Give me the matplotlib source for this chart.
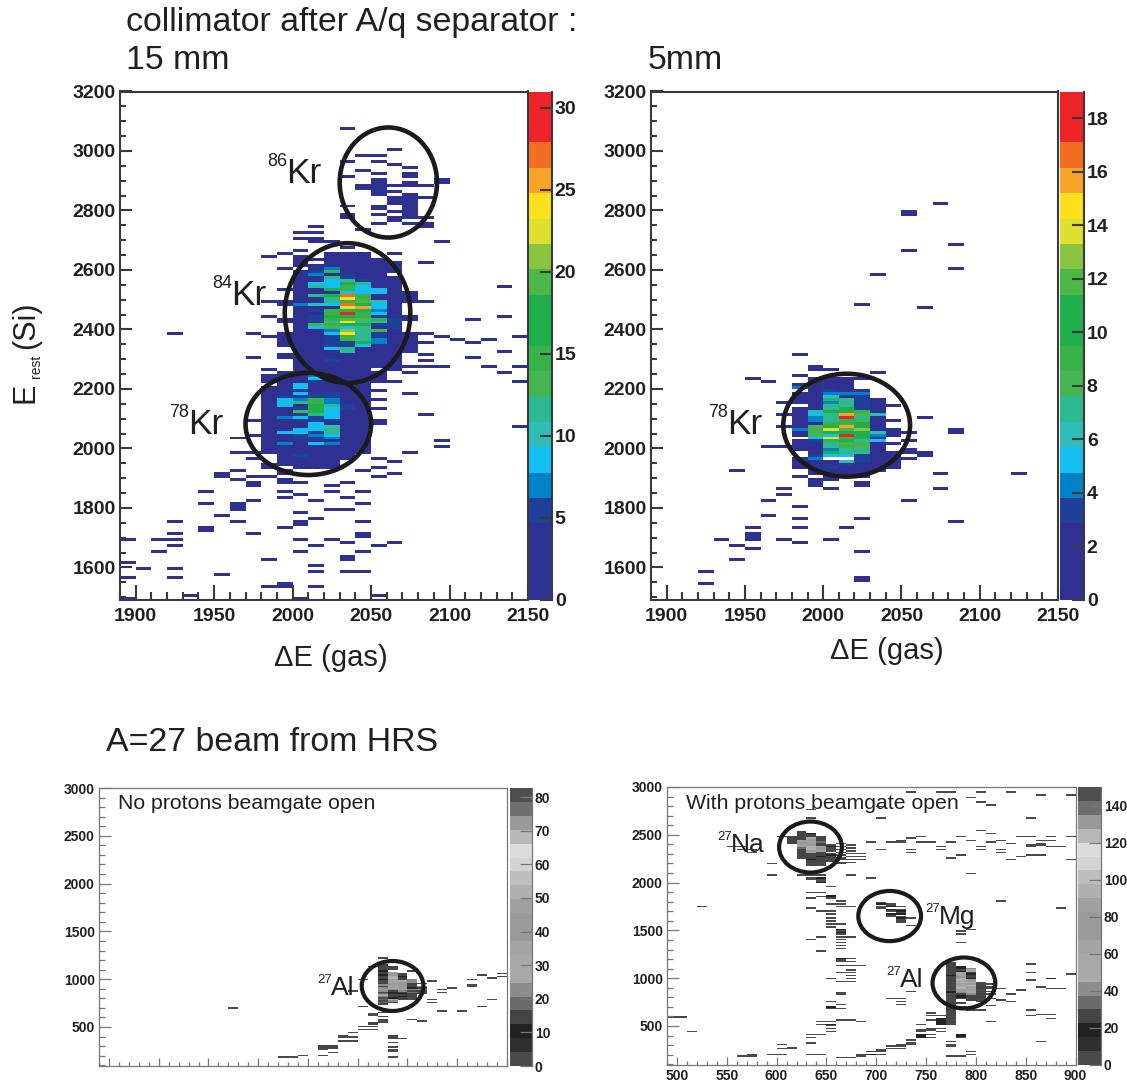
import numpy as np
import matplotlib
matplotlib.use("Agg")
import matplotlib.pyplot as plt
from matplotlib.colors import ListedColormap, BoundaryNorm
from matplotlib.patches import Ellipse
from matplotlib.ticker import MultipleLocator

W, H = 1127, 1086
plt.rcParams['font.family'] = ['Liberation Sans', 'DejaVu Sans']
INK = '#231f20'

# palette of the two upper plots and the gray version of the lower ones
rainbow = ['#2e3192', '#2e3192', '#2e3192', '#1f4099', '#0082c8', '#14bef0', '#2dbdb6',
           '#2db890', '#45b552', '#37b34a', '#1faf4b', '#1faf4b', '#4db748', '#8ac440',
           '#dde030', '#fbe01c', '#f9a327', '#f36e23', '#ee2328', '#ee2328']
grays = ['#4a4a4a', '#2f2f2f', '#222222', '#444444', '#6a6a6a', '#8c8c8c', '#a9a9a9', '#a8a8a8',
         '#a4a4a4', '#9a9a9a', '#9a9a9a', '#a0a0a0', '#b0b0b0', '#bebebe', '#d4d4d4', '#dcdcdc',
         '#b8b8b8', '#999999', '#6f6f6f', '#4f4f4f']

# ---- 15 mm plot ----
tl_rows_y = [3070, 3000, 2980, 2960, 2950, 2940, 2930, 2920, 2910, 2900, 2890, 2880, 2870, 2860,
             2850, 2840, 2830, 2820, 2810, 2800, 2790, 2780, 2770, 2760, 2750, 2740, 2730, 2720,
             2700, 2690, 2670, 2660, 2620, 2540, 2490, 2440, 2430, 2380, 2370, 2360, 2350, 2320,
             2310, 2300, 2290, 2270, 2250, 2220, 2180, 2160, 2130, 2110, 2090, 2080, 2070, 2040,
             2030, 2020, 2000, 1980, 1960, 1950, 1930, 1920, 1910, 1900, 1890, 1880, 1870, 1850,
             1840, 1830, 1820, 1810, 1800, 1790, 1780, 1770, 1760, 1750, 1740, 1730, 1720, 1710,
             1700, 1690, 1680, 1670, 1650, 1630, 1620, 1610, 1600, 1590, 1580, 1570, 1560, 1540,
             1530, 1500, 1490]
tl_rows_x = [[2030], [2060], [2040, 2050], [2030, 2050], [2060], [2070], [2040], [2050, 2070],
             [2030, 2070], [2050, 2090], [2050, 2070, 2090], [2040, 2050, 2060, 2070, 2080],
             [2040, 2050], [2050, 2060], [2050, 2070], [2060, 2070, 2080], [2060, 2070],
             [2060, 2070], [2030, 2050, 2070], [2050, 2070], [2060, 2070], [2030, 2050, 2070],
             [2030, 2060, 2070, 2080], [2060], [2050, 2070, 2080], [2010, 2080], [2040],
             [2000, 2010], [2000, 2010], [2010, 2020, 2090], [2030], [2000], [2080], [2130],
             [2080], [1980, 2130], [2110], [1920, 1970, 2080], [2090, 2140], [2100, 2120],
             [2080, 2110], [2130], [2080], [1970, 2110], [2080], [2080, 2090, 2120, 2140], [2130],
             [2050, 2140], [2070], [2050], [2050], [2080], [1970, 2050], [2050], [2140], [1970],
             [1960], [2090], [2090], [1960, 1970, 2070], [1970, 2050], [2060], [1980, 2050],
             [1960, 2040], [1950, 1990, 2060], [1950, 1970, 1980, 2050], [1960, 1990],
             [1970, 1990, 2000, 2030], [1970, 2020], [1940, 1990, 2020, 2040], [2000], [1990, 2030],
             [1970, 2010], [1940, 1960, 2040], [1960], [1960, 2020, 2030], [2000], [1950], [2010],
             [1920, 1960, 2000, 2040], [2000], [1940, 1990], [1940], [1920, 1970, 2040],
             [2040], [1890, 1910, 1920, 2000, 2020], [2030, 2060], [1920, 2010, 2050],
             [1910, 2000, 2040], [2030], [1980, 2030], [1890], [2010], [1900, 1920],
             [2010, 2030, 2040], [1950], [1890, 1920], [1990], [1980, 1990, 2010], [1930, 2050],
             [1890, 2000]]

tl_core_x = [1980, 1990, 2000, 2010, 2020, 2030, 2040, 2050, 2060, 2070]
tl_core_top = 2650
tl_core = [
    [0, 1, 0, 0, 2, 2, 2, 0, 1, 0], [1, 0, 2, 0, 2, 2, 2, 0, 0, 0], [0, 0, 1, 1, 2, 2, 2, 1, 0, 0],
    [0, 0, 2, 0, 1, 2, 1, 1, 1, 0], [0, 0, 2, 1, 1, 1, 2, 2, 2, 0], [0, 1, 0, 3, 7, 4, 2, 2, 2, 0],
    [0, 0, 2, 6, 15, 4, 3, 1, 1, 0], [0, 0, 2, 7, 2, 5, 3, 3, 0, 0], [0, 0, 1, 2, 11, 5, 4, 3, 2, 0],
    [0, 0, 2, 3, 8, 11, 5, 1, 3, 0], [0, 0, 2, 9, 8, 16, 11, 2, 3, 0], [0, 0, 2, 12, 8, 15, 9, 2, 2, 0],
    [0, 2, 2, 2, 16, 15, 9, 9, 3, 0], [0, 0, 2, 3, 4, 8, 9, 9, 3, 2], [0, 0, 2, 11, 16, 27, 15, 2, 3, 2],
    [0, 0, 2, 3, 12, 24, 15, 3, 3, 2], [1, 2, 2, 3, 12, 15, 19, 10, 2, 2], [0, 2, 7, 10, 8, 27, 16, 9, 3, 0],
    [0, 0, 2, 3, 3, 23, 25, 9, 3, 0], [0, 0, 2, 5, 15, 15, 16, 7, 3, 0], [0, 0, 2, 3, 15, 30, 15, 8, 3, 0],
    [0, 0, 2, 5, 16, 16, 15, 5, 3, 2], [0, 2, 2, 5, 15, 20, 19, 15, 5, 2], [0, 2, 2, 5, 11, 24, 11, 12, 5, 0],
    [0, 0, 2, 13, 15, 16, 16, 6, 5, 0], [0, 0, 2, 8, 13, 9, 11, 3, 5, 0], [0, 0, 2, 2, 7, 21, 11, 13, 3, 0],
    [0, 1, 2, 2, 8, 24, 11, 5, 2, 2], [1, 1, 2, 3, 5, 15, 11, 5, 3, 2], [0, 1, 2, 2, 5, 15, 11, 7, 3, 2],
    [0, 2, 2, 2, 5, 5, 16, 7, 3, 2], [0, 1, 2, 2, 5, 5, 8, 2, 3, 2], [0, 0, 2, 2, 8, 11, 2, 2, 3, 1],
    [0, 0, 2, 2, 3, 11, 3, 2, 2, 1], [0, 1, 2, 2, 2, 2, 2, 2, 2, 0], [0, 1, 2, 2, 3, 3, 2, 2, 2, 0],
    [0, 0, 2, 2, 5, 2, 2, 2, 2, 0], [0, 0, 2, 1, 2, 2, 1, 2, 2, 0], [0, 0, 2, 2, 2, 2, 2, 2, 2, 1],
    [1, 0, 2, 3, 2, 2, 2, 0, 2, 0], [0, 1, 2, 2, 2, 2, 2, 2, 0, 1], [1, 2, 2, 7, 2, 2, 2, 2, 0, 0],
    [1, 2, 2, 8, 2, 2, 2, 2, 0, 0], [2, 2, 2, 5, 2, 2, 2, 2, 1, 0], [0, 2, 8, 2, 2, 2, 2, 0, 0, 0],
    [2, 2, 8, 2, 2, 2, 2, 0, 0, 0], [2, 2, 5, 2, 2, 2, 2, 2, 0, 0], [2, 2, 8, 5, 5, 2, 2, 0, 0, 1],
    [2, 5, 5, 5, 5, 2, 2, 0, 0, 0], [2, 8, 7, 15, 7, 2, 2, 0, 0, 0], [2, 8, 11, 15, 7, 3, 2, 0, 0, 0],
    [2, 8, 3, 16, 11, 5, 2, 0, 0, 0], [2, 2, 5, 16, 8, 5, 2, 1, 0, 0], [2, 3, 13, 16, 8, 2, 2, 0, 0, 0],
    [2, 3, 5, 11, 8, 2, 2, 0, 0, 0], [2, 7, 8, 5, 8, 2, 2, 0, 0, 0], [2, 2, 5, 5, 5, 3, 2, 1, 0, 0],
    [2, 2, 2, 8, 2, 2, 2, 1, 0, 0], [2, 2, 3, 8, 10, 2, 2, 0, 0, 0], [2, 2, 8, 8, 11, 2, 2, 0, 0, 0],
    [2, 8, 8, 5, 11, 2, 2, 0, 0, 0], [2, 2, 5, 7, 8, 2, 2, 0, 0, 0], [2, 2, 5, 5, 7, 2, 2, 0, 0, 0],
    [1, 2, 2, 2, 3, 2, 2, 0, 0, 0], [1, 7, 2, 8, 7, 2, 2, 0, 0, 0], [1, 2, 2, 2, 2, 2, 2, 0, 0, 0],
    [1, 2, 2, 2, 2, 2, 2, 0, 0, 0], [1, 1, 3, 2, 2, 2, 1, 0, 0, 1], [0, 1, 5, 1, 2, 2, 0, 0, 0, 0],
    [0, 1, 1, 3, 1, 1, 0, 1, 0, 0], [0, 1, 2, 2, 2, 0, 0, 0, 1, 0], [1, 1, 2, 2, 1, 0, 0, 0, 0, 0],
    [1, 0, 1, 2, 2, 0, 0, 1, 0, 0], [0, 1, 0, 0, 0, 0, 1, 0, 0, 0]]

# ---- 5 mm plot ----
tr_rows_y = [2820, 2790, 2780, 2680, 2660, 2600, 2580, 2480, 2470, 2310, 2270, 2260, 2250, 2240,
             2230, 2220, 2150, 2140, 2110, 2100, 2090, 2070, 2060, 2050, 2040, 2020, 2010, 2000,
             1990, 1980, 1970, 1960, 1950, 1920, 1910, 1900, 1890, 1880, 1870, 1860, 1840, 1820,
             1800, 1770, 1760, 1750, 1730, 1710, 1700, 1690, 1680, 1670, 1660, 1650, 1620, 1580,
             1560, 1550, 1540]
tr_rows_x = [[2070], [2050], [2050], [2080], [2050], [2080], [2030], [2020], [2060], [1980], [1990],
             [1990, 2000], [2030], [1980], [1950], [1960], [1970], [2040], [1970], [2060], [2040],
             [1970], [2040, 2080], [2050, 2080], [2040], [2050], [2040], [1960, 1970], [2050],
             [2040, 2050, 2060], [2060], [2040, 2050], [2040], [1940], [2070, 2120], [1980],
             [1990, 2000], [1990, 2020], [1990, 2020], [1970, 2000, 2070], [1970], [1960, 2050],
             [1980], [1960], [1980, 2020], [2080], [1950, 1980, 2010], [1950], [1950],
             [1930, 1950, 1970, 2000], [1980], [1940], [1950], [2020], [1940], [1920], [2020],
             [2020], [1920]]

tr_core_x = [1980, 1990, 2000, 2010, 2020, 2030, 2040]
tr_core_top = 2230
tr_core = [
    [0, 2, 2, 2, 2, 0, 0], [0, 2, 2, 2, 0, 0, 0], [2, 2, 2, 2, 0, 0, 0], [4, 2, 2, 2, 0, 0, 0],
    [0, 2, 3, 2, 2, 0, 0], [2, 2, 4, 4, 4, 0, 0], [2, 2, 5, 2, 3, 0, 0], [2, 2, 9, 7, 3, 2, 0],
    [2, 2, 4, 7, 3, 2, 0], [0, 2, 7, 7, 3, 2, 2], [2, 2, 7, 10, 3, 2, 0], [2, 6, 10, 10, 9, 2, 0],
    [2, 5, 7, 16, 8, 6, 0], [2, 4, 7, 18, 7, 2, 0], [2, 4, 7, 9, 8, 2, 2], [2, 2, 9, 9, 10, 2, 0],
    [2, 8, 10, 16, 10, 2, 0], [4, 8, 14, 12, 13, 2, 2], [2, 8, 10, 10, 11, 6, 2], [2, 8, 5, 18, 10, 4, 2],
    [0, 5, 14, 9, 10, 2, 0], [2, 3, 9, 10, 7, 5, 0], [2, 2, 7, 8, 8, 2, 2], [2, 2, 7, 9, 8, 2, 0],
    [2, 2, 4, 7, 7, 2, 0], [0, 2, 10, 7, 7, 2, 2], [0, 3, 5, 5, 3, 2, 2], [2, 4, 0, 0, 3, 2, 0],
    [2, 2, 2, 6, 3, 2, 2], [2, 2, 2, 3, 2, 2, 2], [2, 2, 3, 2, 2, 2, 2], [0, 2, 2, 2, 2, 2, 0],
    [0, 2, 2, 2, 2, 0, 0], [2, 0, 2, 2, 2, 0, 0]]

# ---- no protons plot ----
bl_rows_y = [1225, 1130, 1080, 1060, 1045, 1030, 1010, 990, 975, 940, 920, 910, 895, 870, 860, 790,
             750, 715, 700, 660, 650, 635, 620, 610, 580, 575, 555, 540, 505, 470, 445, 410, 400,
             380, 355, 345, 335, 295, 280, 260, 240, 230, 205, 200, 195, 185, 180]
bl_rows_x = [[770], [760], [800], [890], [870], [890], [880], [750, 860], [820], [860], [860], [840],
             [830], [740], [830], [820, 880], [820], [750, 870], [620], [830, 850], [770], [760], [760],
             [770], [800], [770], [770, 810], [760, 770], [750, 760], [750, 760], [740], [730],
             [730, 740, 780], [780, 790], [730], [740], [780], [780], [710, 720], [710, 780], [780],
             [720], [710], [690], [690], [680], [670, 780]]
bl_dark_y = [645, 610, 600, 580, 540, 525, 505, 415, 400, 310, 295]
bl_dark_x = [[770], [770], [770], [770], [760], [760], [750, 760], [780], [780], [710, 720], [710, 720]]

bl_core_x = [770, 780, 790, 800, 810]
bl_core_top = 1140
bl_core = [
    [14, 0, 0, 0, 0], [14, 14, 0, 0, 0], [2, 14, 0, 0, 0], [14, 14, 0, 0, 0], [10, 0, 0, 0, 0],
    [14, 35, 0, 0, 0], [14, 45, 14, 0, 0], [10, 45, 14, 0, 0], [14, 50, 10, 0, 0], [14, 50, 14, 0, 0],
    [10, 40, 14, 22, 0], [14, 35, 30, 22, 0], [2, 35, 40, 22, 0], [14, 40, 45, 14, 2], [22, 40, 40, 14, 0],
    [2, 35, 40, 14, 22], [22, 35, 40, 10, 14], [35, 22, 35, 22, 22], [22, 14, 22, 14, 14], [2, 10, 14, 18, 2],
    [18, 6, 10, 14, 2], [35, 14, 14, 14, 0], [22, 14, 10, 14, 0], [2, 10, 14, 2, 0], [18, 35, 2, 2, 0],
    [2, 22, 0, 0, 0], [18, 2, 0, 0, 0], [14, 0, 0, 0, 0]]

# ---- with protons plot ----
br_rows_y = [2990, 2950, 2940, 2910, 2890, 2840, 2810, 2800, 2760, 2680, 2670, 2540, 2510, 2480, 2460,
             2440, 2420, 2400, 2390, 2380, 2370, 2350, 2310, 2290, 2270, 2250, 2240, 2190, 2090, 2070,
             2050, 2030, 2015, 2000, 1950, 1900, 1860, 1845, 1830, 1810, 1800, 1780, 1750, 1735, 1725,
             1700, 1665, 1630, 1600, 1570, 1535, 1500, 1485, 1455, 1430, 1400, 1370, 1345, 1315, 1280,
             1210, 1195, 1175, 1150, 1130, 1085, 1060, 1040, 1030, 1000, 980, 970, 930, 910, 900, 895,
             890, 885, 880, 860, 855, 850, 825, 790, 780, 770, 760, 755, 730, 710, 700, 675, 665, 660,
             630, 625, 615, 605, 600, 590, 580, 565, 555, 545, 540, 525, 510, 495, 475, 455, 440, 405,
             380, 355, 335, 320, 300, 290, 270, 265, 255, 250, 230, 205, 195, 185, 180, 170]
br_rows_x = [[820], [770, 800], [730, 760, 830], [860, 890], [790], [800], [810], [700], [630], [850],
             [630, 700], [800], [810], [600, 740, 780, 840, 850, 870, 890], [730], [720, 790, 820, 860, 870],
             [690, 710, 720, 740, 750, 770, 810], [830, 860], [850, 860], [550, 560, 850, 870],
             [760, 800, 880], [560, 570, 700, 730, 760, 800, 820], [570, 730, 820], [780, 850, 860], [840],
             [770], [830, 890], [590], [790], [590, 620, 630, 640, 670], [630, 640, 690], [630, 640], [640],
             [640], [650], [630, 640], [650], [640, 650], [630, 650], [820], [660], [650, 660],
             [520, 660, 670], [630], [880], [640, 650], [650], [650], [650], [650, 660], [650], [660, 790],
             [660, 780], [660, 780], [640, 660, 670], [630, 660], [660, 780], [660], [660], [640], [660, 670],
             [660], [660, 670], [850], [660, 670, 680], [670], [660, 670, 850], [890], [670], [650, 670], [850],
             [660, 670], [810], [860], [810], [870, 880], [820], [810], [840], [730], [810], [660], [660, 810, 830],
             [810], [710, 720], [820], [650, 720], [830], [660, 720], [810], [650], [650, 660], [800], [850],
             [750], [870], [860], [760], [750, 850], [490, 500], [870], [760], [660, 670, 750, 760],
             [640, 650, 810], [680, 760], [760], [640, 650, 740], [650], [650, 750, 760], [740, 750],
             [510, 650, 740, 760], [630, 640, 740, 750, 780], [630, 740, 750, 780], [730], [770, 860], [630, 730],
             [600, 720, 730, 770], [710, 720, 770], [610], [710, 720], [600, 610], [700], [690, 700, 790],
             [630, 640], [570, 590, 600, 680, 690, 700, 790], [680, 770, 780], [560, 570], [660, 670]]
br_dark_y = [2045, 2000, 1860, 1845, 1500, 1480, 1210, 990, 700, 575, 560, 545, 530, 515, 510, 415, 410,
             400, 395, 380, 205, 195]
br_dark_x = [[640], [640], [650], [650], [660], [660], [660], [870], [650], [760], [760], [760], [760], [760],
             [650], [780], [740], [780], [740], [740], [690], [690]]

br_na_x = [610, 620, 630, 640, 650, 660, 670, 680]
br_na_top = 2520
br_na = [
    [0, 25, 0, 0, 0, 0, 0, 0], [0, 25, 20, 0, 0, 0, 0, 0], [0, 25, 25, 0, 0, 0, 0, 0], [25, 25, 25, 25, 0, 0, 0, 0],
    [25, 25, 45, 25, 0, 0, 0, 0], [25, 25, 80, 25, 0, 0, 0, 0], [25, 60, 80, 25, 0, 0, 0, 0],
    [25, 80, 85, 30, 0, 0, 0, 0], [25, 80, 70, 25, 0, 3, 0, 0], [0, 85, 70, 25, 3, 0, 3, 0],
    [0, 70, 90, 60, 20, 3, 0, 0], [0, 30, 90, 80, 3, 0, 3, 0], [0, 25, 90, 80, 25, 3, 0, 0],
    [0, 25, 80, 60, 3, 0, 3, 0], [0, 25, 60, 25, 0, 3, 0, 0], [0, 25, 25, 25, 3, 0, 3, 3],
    [0, 25, 25, 25, 20, 3, 0, 0], [0, 25, 25, 20, 3, 0, 3, 3], [0, 3, 25, 25, 25, 3, 0, 0],
    [0, 0, 20, 25, 3, 25, 3, 3], [0, 0, 25, 25, 25, 0, 0, 0], [0, 0, 3, 3, 0, 3, 3, 0],
    [0, 0, 3, 3, 0, 3, 0, 0], [0, 0, 3, 3, 0, 0, 0, 0]]

br_mg_x = [700, 710, 720, 730]
br_mg_top = 1785
br_mg = [
    [3, 0, 0, 0], [20, 3, 0, 0], [0, 3, 0, 0], [3, 20, 3, 0], [3, 0, 0, 0], [0, 20, 3, 0], [0, 3, 20, 0],
    [0, 0, 3, 0], [0, 20, 20, 0], [0, 3, 0, 0], [0, 3, 3, 0], [0, 0, 20, 3], [0, 0, 3, 0], [0, 0, 25, 0],
    [0, 0, 3, 0], [0, 0, 0, 0], [0, 0, 0, 3]]

br_al_x = [770, 780, 790, 800]
br_al_top = 1155
br_al = [
    [3, 0, 0, 0], [25, 0, 0, 0], [25, 0, 0, 0], [25, 20, 0, 0], [3, 20, 40, 0], [25, 25, 45, 0], [25, 20, 45, 0],
    [25, 45, 25, 0], [25, 60, 20, 0], [20, 60, 25, 0], [25, 70, 25, 0], [3, 60, 20, 0], [25, 90, 70, 0],
    [25, 85, 70, 0], [3, 90, 90, 3], [25, 85, 70, 3], [3, 85, 90, 25], [25, 90, 85, 25], [25, 90, 85, 25],
    [3, 70, 85, 3], [20, 70, 60, 25], [20, 40, 50, 3], [3, 25, 40, 25], [25, 20, 25, 3], [3, 20, 25, 25],
    [25, 3, 25, 3], [3, 0, 25, 3], [25, 0, 0, 3], [3, 3, 0, 0], [25, 0, 0, 0], [3, 0, 0, 0], [25, 25, 0, 0],
    [25, 3, 0, 0], [25, 0, 3, 0], [3, 0, 0, 0], [25, 0, 0, 0], [3, 0, 0, 0], [25, 0, 0, 0], [3, 0, 0, 0],
    [25, 0, 0, 0], [3, 0, 0, 0], [25, 0, 0, 0], [3, 0, 0, 0], [25, 0, 0, 0]]


def box(l, t, r, b):
    return [l / W, 1 - b / H, (r - l) / W, (b - t) / H]


def label(x, y, s, size, **kw):
    kw.setdefault('color', INK)
    kw.setdefault('va', 'baseline')
    fig.text(x / W, 1 - y / H, s, fontsize=size, **kw)


def add_rows(grid, xe, ye, rows_y, rows_x, value):
    xs = [x for y, row in zip(rows_y, rows_x) for x in row]
    ys = [y for y, row in zip(rows_y, rows_x) for x in row]
    hist, _, _ = np.histogram2d(np.array(xs) + 1, np.array(ys) + 1, bins=[xe, ye])
    grid[hist > 0] = np.maximum(grid[hist > 0], value)


def add_core(grid, xe, ye, core_x, top, step, core):
    for i, row in enumerate(core):
        for x, v in zip(core_x, row):
            ix = np.searchsorted(xe, x + 1) - 1
            iy = np.searchsorted(ye, top - i * step + 1) - 1
            grid[ix, iy] = max(grid[ix, iy], v)


def draw(ax, cax, grid, xe, ye, cmap, zmax, cticks, smooth=False):
    norm = BoundaryNorm(np.linspace(0, zmax, 21), 20)
    mesh = ax.pcolormesh(xe, ye, np.ma.masked_equal(grid, 0).T, cmap=cmap, norm=norm,
                         antialiased=smooth, linewidth=0)
    cb = fig.colorbar(mesh, cax=cax, ticks=cticks, spacing='proportional')
    return cb


def style(ax, cax, cb, dark, tsize, xmaj, xmin, ymaj, ymin, xlen, ylen, xlabels=True):
    col = '#3a3a3a' if dark else '#777777'
    lw = 1.5 if dark else 0.9
    for s in ax.spines.values():
        s.set_color(col)
        s.set_linewidth(lw)
    ax.xaxis.set_major_locator(MultipleLocator(xmaj))
    ax.xaxis.set_minor_locator(MultipleLocator(xmin))
    ax.yaxis.set_major_locator(MultipleLocator(ymaj))
    ax.yaxis.set_minor_locator(MultipleLocator(ymin))
    ax.tick_params(axis='x', which='major', direction='in', length=xlen, width=lw, color=col,
                   labelsize=tsize, labelcolor=INK, pad=6 if dark else 3, labelbottom=xlabels)
    ax.tick_params(axis='x', which='minor', direction='in', length=xlen / 2, width=lw, color=col)
    ax.tick_params(axis='y', which='major', direction='in', length=ylen, width=lw, color=col,
                   labelsize=tsize, labelcolor=INK, pad=3)
    ax.tick_params(axis='y', which='minor', direction='in', length=ylen / 2, width=lw, color=col)
    for t in ax.get_xticklabels() + ax.get_yticklabels():
        t.set_fontweight('bold')
    cb.outline.set_visible(False)
    cax.spines['right'].set_visible(True)
    cax.spines['right'].set_color(col)
    cax.spines['right'].set_linewidth(lw)
    cax.tick_params(which='major', direction='in', length=ylen, width=lw, color=col,
                    labelsize=tsize, labelcolor=INK, pad=2)
    cax.minorticks_off()
    for t in cax.get_yticklabels():
        t.set_fontweight('bold')


def ring(ax, x, y, w, h, lw):
    ax.add_patch(Ellipse((x, y), w, h, fill=False, ec='#1c1a1b', lw=lw, clip_on=False, zorder=5))


fig = plt.figure(figsize=(W / 100, H / 100), dpi=100, facecolor='white')
rb_cmap = ListedColormap(rainbow)
gr_cmap = ListedColormap(grays)

top_xe = np.arange(1890, 2151, 10)
top_ye = np.arange(1490, 3201, 10)
low_xe = np.arange(490, 901, 10)
low_ye = np.arange(90, 3001, 15)

# upper left
ax = fig.add_axes(box(120, 91.5, 528, 599.5))
cax = fig.add_axes(box(529, 91.5, 552, 599.5))
grid = np.zeros((len(top_xe) - 1, len(top_ye) - 1))
add_rows(grid, top_xe, top_ye, tl_rows_y, tl_rows_x, 1)
add_core(grid, top_xe, top_ye, tl_core_x, tl_core_top, 10, tl_core)
cb = draw(ax, cax, grid, top_xe, top_ye, rb_cmap, 31, [0, 5, 10, 15, 20, 25, 30])
ax.set_xlim(1890, 2150)
ax.set_ylim(1492, 3200)
style(ax, cax, cb, True, 14, 50, 10, 200, 50, 11, 8.5)
ring(ax, 2061, 2894, 62, 370, 3.3)
ring(ax, 2035, 2455, 80, 470, 3.3)
ring(ax, 2010, 2082, 80, 343, 3.3)

# upper right
ax = fig.add_axes(box(651, 91.5, 1058, 599.5))
cax = fig.add_axes(box(1060, 91.5, 1084, 599.5))
grid = np.zeros((len(top_xe) - 1, len(top_ye) - 1))
add_rows(grid, top_xe, top_ye, tr_rows_y, tr_rows_x, 1)
add_core(grid, top_xe, top_ye, tr_core_x, tr_core_top, 10, tr_core)
cb = draw(ax, cax, grid, top_xe, top_ye, rb_cmap, 19, [0, 2, 4, 6, 8, 10, 12, 14, 16, 18])
ax.set_xlim(1890, 2150)
ax.set_ylim(1492, 3200)
style(ax, cax, cb, True, 14, 50, 10, 200, 50, 11, 8.5)
ring(ax, 2015, 2078, 81, 346, 3.3)

# lower left
ax = fig.add_axes(box(99, 788, 507, 1066))
cax = fig.add_axes(box(510, 788, 532, 1066))
grid = np.zeros((len(low_xe) - 1, len(low_ye) - 1))
add_rows(grid, low_xe, low_ye, bl_rows_y, bl_rows_x, 2)
add_rows(grid, low_xe, low_ye, bl_dark_y, bl_dark_x, 14)
add_core(grid, low_xe, low_ye, bl_core_x, bl_core_top, 15, bl_core)
cb = draw(ax, cax, grid, low_xe, low_ye, gr_cmap, 82.7, [0, 10, 20, 30, 40, 50, 60, 70, 80], smooth=True)
ax.set_xlim(490, 900)
ax.set_ylim(92, 3000)
style(ax, cax, cb, False, 10, 50, 10, 500, 100, 6, 8.5, xlabels=False)
ring(ax, 785, 929, 62, 523, 3)

# lower right
ax = fig.add_axes(box(667, 787, 1075.5, 1065))
cax = fig.add_axes(box(1078, 787, 1101, 1065))
grid = np.zeros((len(low_xe) - 1, len(low_ye) - 1))
add_rows(grid, low_xe, low_ye, br_rows_y, br_rows_x, 3)
add_rows(grid, low_xe, low_ye, br_dark_y, br_dark_x, 20)
add_core(grid, low_xe, low_ye, br_na_x, br_na_top, 15, br_na)
add_core(grid, low_xe, low_ye, br_mg_x, br_mg_top, 15, br_mg)
add_core(grid, low_xe, low_ye, br_al_x, br_al_top, 15, br_al)
cb = draw(ax, cax, grid, low_xe, low_ye, gr_cmap, 150, [0, 20, 40, 60, 80, 100, 120, 140], smooth=True)
ax.set_xlim(490, 900)
ax.set_ylim(92, 3000)
style(ax, cax, cb, False, 10, 50, 10, 500, 100, 6, 8.5)
ring(ax, 634, 2372, 63, 533, 3)
ring(ax, 713.5, 1650, 63, 525, 3)
ring(ax, 788, 950, 63, 533, 3)

# titles
label(126, 31, 'collimator after A/q separator :', 24.4)
label(126, 69, '15 mm', 24.4)
label(648, 69, '5mm', 24.4)
label(106, 751, 'A=27 beam from HRS', 24.4)
label(118, 809, 'No protons beamgate open', 15.3)
label(686, 809, 'With protons beamgate open', 15.3)

# axis titles
label(331, 666, '\u0394E (gas)', 21, ha='center')
label(887, 659, '\u0394E (gas)', 21, ha='center')
label(26, 403, 'E', 22, rotation=90, ha='center', va='bottom')
label(36, 378, 'rest', 10, rotation=90, ha='center', va='bottom')
label(26, 349, '(Si)', 22, rotation=90, ha='center', va='bottom')

# isotope names
for x, y, mass, name in [(267, 166, '86', 'Kr'), (212, 288, '84', 'Kr'), (169, 417, '78', 'Kr'),
                         (708, 417, '78', 'Kr')]:
    label(x, y, mass, 13)
    label(x + 19, y + 17, name, 25.5)
for x, y, mass, name in [(317, 983, '27', 'Al'), (717, 840, '27', 'Na'), (925, 912, '27', 'Mg'),
                         (886, 975, '27', 'Al')]:
    label(x, y, mass, 9.5)
    label(x + 14, y + 12, name, 19)

fig.savefig('out.png', dpi=100)
